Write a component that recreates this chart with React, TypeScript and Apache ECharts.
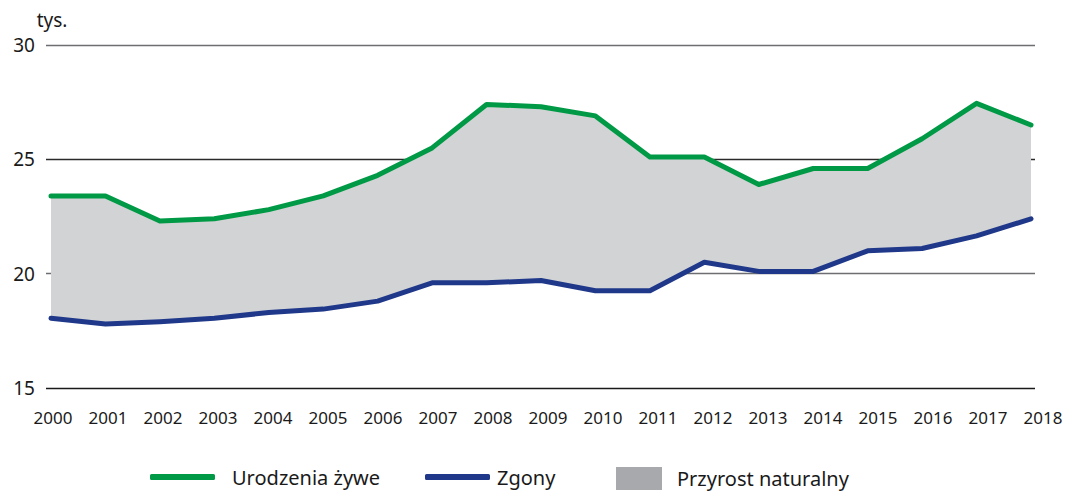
import React, { useEffect, useRef } from "react";
import * as echarts from "echarts";

const years = ["2000", "2001", "2002", "2003", "2004", "2005", "2006", "2007", "2008", "2009", "2010", "2011", "2012", "2013", "2014", "2015", "2016", "2017", "2018"];
const births = [23.4, 23.4, 22.3, 22.4, 22.8, 23.4, 24.3, 25.5, 27.4, 27.3, 26.9, 25.1, 25.1, 23.9, 24.6, 24.6, 25.9, 27.45, 26.5];
const deaths = [18.05, 17.8, 17.9, 18.05, 18.3, 18.45, 18.8, 19.6, 19.6, 19.7, 19.25, 19.25, 20.5, 20.1, 20.1, 21.0, 21.1, 21.65, 22.4];
const yMin = 15;
const yMax = 30;
const yStep = 5;
const seriesNames = ["Urodzenia żywe", "Zgony", "Przyrost naturalny"];

const FONT = "'Noto Sans', sans-serif";
const TXT = "#1a1a1a";
const GREEN = "#009a46";
const BLUE = "#1f388a";
const AREA = "#d1d3d4";
const AREA_LEGEND = "#a7a9ac";

export default function App() {
  const ref = useRef<HTMLDivElement>(null);
  useEffect(() => {
    if (!ref.current) return;
    const chart = echarts.init(ref.current, null, { renderer: "svg" });
    const diff = births.map((b, i) => +(b - deaths[i]).toFixed(3));
    const top = 45;
    const bottom = 103;
    const hiddenY = (gi: number) => ({ type: "value", gridIndex: gi, min: yMin, max: yMax, interval: yStep, show: false });
    chart.setOption({
      animation: false,
      textStyle: { fontFamily: FONT, color: TXT },
      grid: [
        { left: 51, right: 36, top, bottom },
        { left: 53, right: 24, top, bottom },
        { left: 46, right: 32, top, bottom },
      ],
      xAxis: [
        {
          type: "category",
          gridIndex: 0,
          data: years,
          boundaryGap: false,
          show: false,
        },
        {
          type: "category",
          gridIndex: 1,
          data: years,
          boundaryGap: false,
          axisLine: { show: false },
          axisTick: { show: false },
          splitLine: { show: false },
          axisLabel: { margin: 21, fontSize: 17, fontFamily: FONT, color: TXT, interval: 0 },
        },
        {
          type: "value",
          gridIndex: 2,
          min: 0,
          max: 1,
          show: false,
        },
      ],
      yAxis: [
        hiddenY(0),
        hiddenY(1),
        {
          type: "value",
          gridIndex: 2,
          min: yMin,
          max: yMax,
          interval: yStep,
          name: "tys.",
          nameLocation: "end",
          nameGap: 16,
          nameTextStyle: { fontSize: 19, fontFamily: FONT, color: TXT, align: "center", padding: [0, 0, 0, 12] },
          axisLine: { show: false },
          axisTick: { show: false },
          axisLabel: { margin: 11, fontSize: 19, fontFamily: FONT, color: TXT },
          splitLine: {
            show: true,
            lineStyle: { color: ["#1a1a1a", "#6d6e71", "#2a2a2a", "#6d6e71"], width: 1.3 },
          },
        },
      ],
      legend: [
        {
          data: [{ name: seriesNames[0], icon: "roundRect" }],
          left: 150,
          top: 467,
          padding: 0,
          itemWidth: 65,
          itemHeight: 6,
          textStyle: { fontSize: 20, fontFamily: FONT, color: TXT, padding: [0, 0, 0, 12] },
        },
        {
          data: [{ name: seriesNames[1], icon: "roundRect" }],
          left: 425,
          top: 467,
          padding: 0,
          itemWidth: 65,
          itemHeight: 6,
          textStyle: { fontSize: 20, fontFamily: FONT, color: TXT, padding: [0, 0, 0, 2] },
        },
        {
          data: [{ name: seriesNames[2], icon: "rect", itemStyle: { color: AREA_LEGEND } }],
          left: 616,
          top: 467,
          padding: 0,
          itemWidth: 46,
          itemHeight: 23,
          textStyle: { fontSize: 20, fontFamily: FONT, color: TXT, padding: [0, 0, 0, 10] },
        },
      ],
      series: [
        {
          name: "base",
          type: "line",
          xAxisIndex: 0,
          yAxisIndex: 0,
          stack: "band",
          data: deaths,
          symbol: "none",
          lineStyle: { width: 0, opacity: 0 },
          silent: true,
        },
        {
          name: seriesNames[2],
          type: "line",
          xAxisIndex: 0,
          yAxisIndex: 0,
          stack: "band",
          data: diff,
          symbol: "none",
          lineStyle: { width: 0, opacity: 0 },
          itemStyle: { color: AREA_LEGEND },
          areaStyle: { color: AREA, opacity: 1 },
        },
        {
          name: seriesNames[0],
          type: "line",
          xAxisIndex: 0,
          yAxisIndex: 0,
          data: births,
          symbol: "none",
          lineStyle: { color: GREEN, width: 5, cap: "round", join: "round" },
          itemStyle: { color: GREEN },
          z: 5,
        },
        {
          name: seriesNames[1],
          type: "line",
          xAxisIndex: 0,
          yAxisIndex: 0,
          data: deaths,
          symbol: "none",
          lineStyle: { color: BLUE, width: 5, cap: "round", join: "round" },
          itemStyle: { color: BLUE },
          z: 5,
        },
        { name: "labels", type: "line", xAxisIndex: 1, yAxisIndex: 1, data: [], silent: true },
        { name: "frame", type: "line", xAxisIndex: 2, yAxisIndex: 2, data: [], silent: true },
      ],
    });
    return () => chart.dispose();
  }, []);
  return <div ref={ref} style={{ width: 1067, height: 491, position: "absolute", left: 0, top: 0 }} />;
}
